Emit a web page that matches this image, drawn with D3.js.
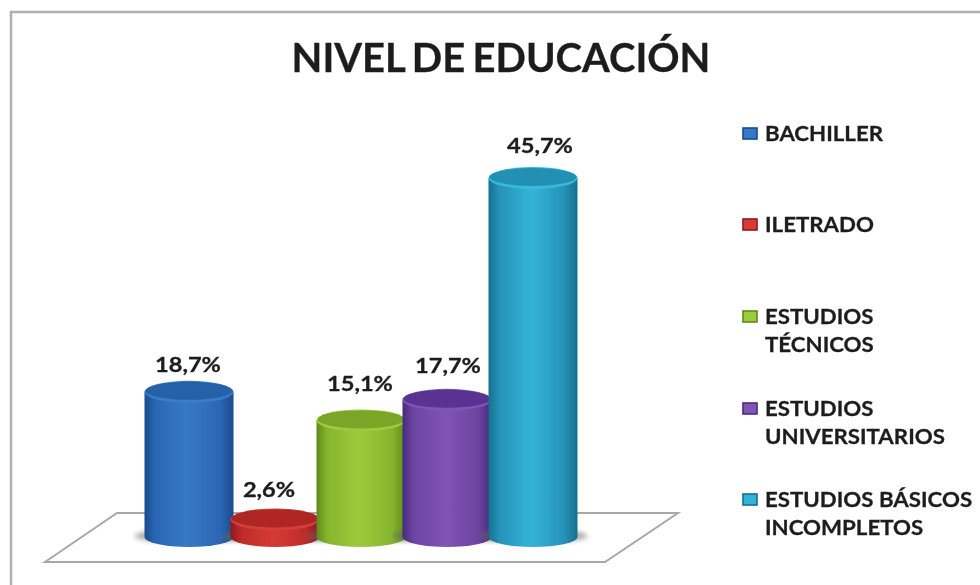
<!DOCTYPE html>
<html><head><meta charset="utf-8">
<script src="https://cdn.jsdelivr.net/npm/d3@7/dist/d3.min.js"></script>
<style>html,body{margin:0;padding:0;background:#fff;overflow:hidden}
text{font-family:Lato,"Open Sans",sans-serif;font-weight:700;fill:#1f1f1f;stroke:#1f1f1f;stroke-width:.3}</style>
</head><body><svg id="c" width="980" height="585"></svg>
<script>
const title = "NIVEL DE EDUCACIÓN";
const categories = ["BACHILLER","ILETRADO","ESTUDIOS TÉCNICOS","ESTUDIOS UNIVERSITARIOS","ESTUDIOS BÁSICOS INCOMPLETOS"];
const legendLines = [["BACHILLER"],["ILETRADO"],["ESTUDIOS","TÉCNICOS"],["ESTUDIOS","UNIVERSITARIOS"],["ESTUDIOS BÁSICOS","INCOMPLETOS"]];
const values = [18.7,2.6,15.1,17.7,45.7];
const labels = ["18,7%","2,6%","15,1%","17,7%","45,7%"];
const edgeColors = ["#1b4c8c","#8a1c1c","#5d8a1c","#472a7c","#15708f"];
const sideColors = ["#2b66b4","#bd2c2a","#86b52e","#6b45a0","#2792b8"];
const midColors = ["#3679c6","#d83a34","#9ccb3a","#8054b4","#33b4d8"];
const topColors = ["#2760a8","#b02624","#7aa528","#5a3391","#2290b2"];
const bevelColors = ["#3a7cca","#d2403a","#9ccb3c","#7f54b2","#38b8da"];

// layout of the labels and the legend
const labelDx = [-1,-6,-1,1,7];
const labelBaseline = [372,497,391,373,153];
const legendBaseline = [141,232,324,416,507];
const legendLeading = 28;

const svg = d3.select("#c");
const defs = svg.append("defs");
defs.append("filter").attr("id","soft").append("feGaussianBlur").attr("stdDeviation",0.5);
defs.append("filter").attr("id","shadow").append("feGaussianBlur").attr("stdDeviation",2.5);
categories.forEach((c,i)=>{
  const g = defs.append("linearGradient").attr("id","g"+i);
  [[0,edgeColors],[12,sideColors],[48,midColors],[85,sideColors],[100,edgeColors]].forEach(([o,a])=>{
    g.append("stop").attr("offset",o+"%").attr("stop-color",a[i]);
  });
});
const root = svg.append("g").attr("filter","url(#soft)");

// frame: only the top and left edges fall inside the picture
root.append("path").attr("d",d3.line()([[11,585],[11,12],[980,12]]))
  .attr("fill","none").attr("stroke","#b0b0b0").attr("stroke-width",2.5);
// floor
root.append("path").attr("d",d3.line()([[45,562],[117,513],[678,513],[605,562]])+"Z")
  .attr("fill","#fff").attr("stroke","#a8a8a8").attr("stroke-width",2);

root.append("text").attr("x",501).attr("y",72).attr("text-anchor","middle")
  .attr("word-spacing",-2.5).attr("font-size",40).text(title);

const x = d3.scalePoint().domain(categories).range([189,533]);
const y = d3.scaleLinear().domain([0,45.7]).range([540,178]);
const baseY = 537, rx = 44.5, ry = 10;

categories.forEach((c,i)=>{
  const g = root.append("g");
  const cx = x(c), ty = y(values[i]);
  g.append("ellipse").attr("cx",cx).attr("cy",baseY-1).attr("rx",rx+10).attr("ry",7)
    .attr("fill","#666").attr("opacity",0.55).attr("filter","url(#shadow)");
  g.append("path")
    .attr("d",`M${cx-rx},${ty}L${cx-rx},${baseY}A${rx},${ry} 0 0 0 ${cx+rx},${baseY}L${cx+rx},${ty}Z`)
    .attr("fill",`url(#g${i})`);
  g.append("ellipse").attr("cx",cx).attr("cy",ty).attr("rx",rx).attr("ry",ry+1)
    .attr("fill",bevelColors[i]);
  g.append("ellipse").attr("cx",cx).attr("cy",ty-1).attr("rx",rx-1).attr("ry",ry-1)
    .attr("fill",topColors[i]);
});
categories.forEach((c,i)=>{
  const lx = x(c)+labelDx[i];
  root.append("text").attr("text-anchor","middle").attr("font-size",20)
    .attr("transform",`translate(${lx},${labelBaseline[i]}) scale(1.18,1)`).text(labels[i]);
});

// legend
legendLines.forEach((lines,i)=>{
  const by = legendBaseline[i];
  root.append("rect").attr("x",743).attr("y",by-13).attr("width",14).attr("height",11)
    .attr("fill",midColors[i]).attr("stroke",edgeColors[i]).attr("stroke-width",1.6);
  lines.forEach((t,j)=>{
    root.append("text").attr("font-size",21)
      .attr("transform",`translate(765,${by+j*legendLeading}) scale(1.06,1)`).text(t);
  });
});
</script></body></html>
